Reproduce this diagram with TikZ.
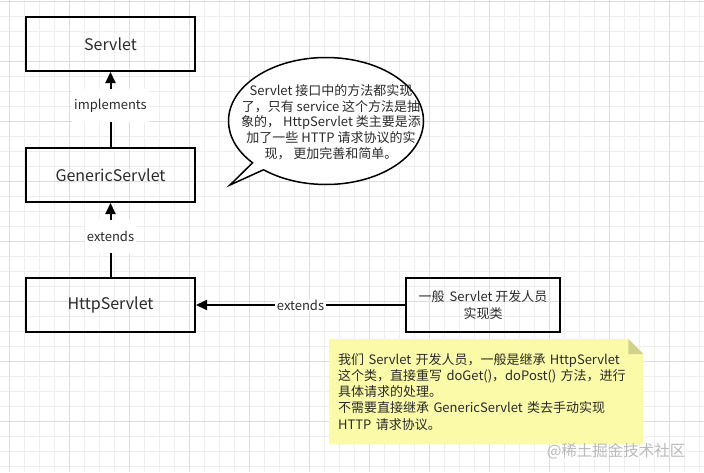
\documentclass[tikz,border=0pt]{standalone}
\usepackage{fontspec}
\setmainfont{Noto Sans CJK SC}
\usetikzlibrary{shapes,shapes.callouts,positioning,arrows.meta}
\pgfdeclarelayer{background}
\pgfsetlayers{background,main}
\definecolor{notefill}{HTML}{FBFAA8}
\definecolor{notefold}{HTML}{D2D18B}
\definecolor{gridminor}{HTML}{EEEEEE}
\definecolor{gridmajor}{HTML}{DDDDDD}
\definecolor{inktext}{HTML}{2B2B2B}

\begin{document}
\begin{tikzpicture}[x=1pt,y=-1pt,
						cls/.style={draw, line width=2pt, minimum width=169pt, minimum height=54pt, text=inktext, font=\fontsize{16}{19}\selectfont},
						lbl/.style={fill=white, inner xsep=2pt, inner ysep=1pt, text=inktext, font=\fontsize{13}{15}\selectfont},
						vlbl/.style={lbl, minimum height=33pt, pos=0.55},
						link/.style={->, line width=2pt},
						bubble/.style={ellipse callout, draw, line width=1.5pt, fill=white, minimum width=195pt, minimum height=127pt, callout pointer arc=9},
						small/.style={text=inktext, font=\fontsize{13}{15.7}\selectfont},
						>={Triangle[length=11pt,width=10pt]}]
					\useasboundingbox (0,0) rectangle (704,472);
					
					\node[cls] (servlet) at (110.5,44) {Servlet};
					\node[cls, below=75pt of servlet] (generic) {GenericServlet};
					\node[cls, below=74pt of generic] (http) {HttpServlet};
					\node[cls, right=209pt of http, minimum width=154pt, align=center, font=\fontsize{13}{17}\selectfont] (dev) {一般\,\ Servlet 开发人员\\实现类};
					
					\draw[link] (generic) -- node[vlbl] {implements} (servlet);
					\draw[link] (http) -- node[vlbl] {extends} (generic);
					\draw[link] (dev) -- node[lbl] {extends} (http);
					
					\node[bubble, callout absolute pointer={(230,185)}] (bubble) at (326,121) {};
					\node[small, align=center] (bubbletxt) at (331,122) {Servlet 接口中的方法都实现\\了，只有 service 这个方法是抽\\象的， HttpServlet 类主要是添\\加了一些 HTTP 请求协议的实\\现， 更加完善和简单。};
					
					\node[small, anchor=north west, minimum height=105pt, text width=296pt, inner xsep=9pt, align=left, font=\fontsize{13}{16.2}\selectfont] (note) at (329,339) {我们 Servlet 开发人员，一般是继承 HttpServlet\\这个类，直接重写 doGet()，doPost() 方法，进行\\具体请求的处理。\\不需要直接继承 GenericServlet 类去手动实现\\HTTP 请求协议。};
					
					\node[text=gray!55, font=\fontsize{15.5}{16}\selectfont, anchor=east] (mark) at (689,451) {@稀土掘金技术社区};
					
					\begin{pgfonlayer}{background}
						\fill[white] (0,0) rectangle (704,472);
						% grid
						\foreach \gx in {9,24,...,704} \draw[gridminor, line width=0.8pt] (\gx,0) -- (\gx,472);
						\foreach \gy in {1,16,...,472} \draw[gridminor, line width=0.8pt] (0,\gy) -- (704,\gy);
						\foreach \gx in {9,69,...,704} \draw[gridmajor, line width=0.8pt] (\gx,0) -- (\gx,472);
						\foreach \gy in {1,61,...,472} \draw[gridmajor, line width=0.8pt] (0,\gy) -- (704,\gy);
						% note
						\fill[notefill] (note.south west) -- (note.north west) -- ([xshift=-15pt]note.north east) -- ([yshift=-15pt]note.north east) -- (note.south east) -- cycle;
						\fill[notefold] ([xshift=-15pt]note.north east) -- ([xshift=-15pt,yshift=-15pt]note.north east) -- ([yshift=-15pt]note.north east) -- cycle;
					\end{pgfonlayer}
				\end{tikzpicture}
\end{document}
